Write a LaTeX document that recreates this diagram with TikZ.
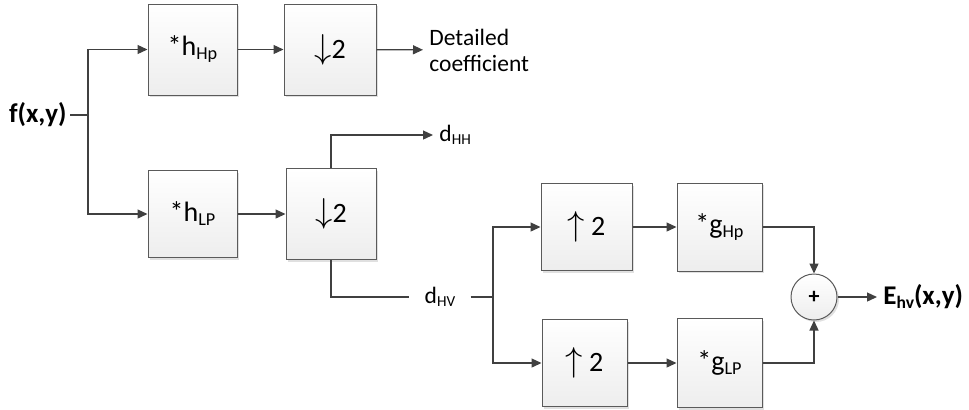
\documentclass[tikz,border=0pt]{standalone}
\usepackage{fontspec}
\setmainfont{Carlito}
\usetikzlibrary{arrows.meta,shadows}

\definecolor{wiregray}{HTML}{404040}
\definecolor{edgegray}{HTML}{5A5A5A}
\newcommand\lowsub[1]{\raisebox{-0.3ex}{\scalebox{0.65}{#1}}}
\newcommand\bigarrow[1]{{\fontsize{16}{16}\selectfont$#1$}}

\begin{document}
\begin{tikzpicture}[x=0.5pt, y=-0.5pt,
    filterbox/.style={draw=edgegray, line width=0.5pt, inner sep=0pt,
        top color=white, bottom color=gray!14,
        drop shadow={shadow xshift=1pt, shadow yshift=-1pt, opacity=0.12, fill=black},
        font=\fontsize{14}{16}\selectfont},
    sumnode/.style={filterbox, circle, minimum size=23pt,
        font=\fontsize{11}{13}\selectfont\bfseries},
    plaintext/.style={font=\fontsize{11.75}{13}\selectfont, inner xsep=3pt},
    boldtext/.style={font=\fontsize{13.5}{15}\selectfont\bfseries},
    wire/.style={draw=wiregray, line width=0.65pt},
    flow/.style={wire, -{Triangle[length=5pt, width=4.5pt]}}]
    \useasboundingbox (0,0) rectangle (969,409);

    % analysis side
    \node[boldtext, anchor=east, inner xsep=1.5pt] (fxy) at (70,115) {f(x,y)};
    \coordinate (split) at (88,115);
    \node[filterbox, minimum width=44.5pt, minimum height=45.5pt] (hHp) at (192.5,49.5) {*h\lowsub{Hp}};
    \node[filterbox, minimum width=46pt, minimum height=45.5pt] (dsA) at (330,49.5) {\bigarrow\downarrow2};
    \node[filterbox, minimum width=44.5pt, minimum height=43.5pt] (hLP) at (192.5,214) {*h\lowsub{LP}};
    \node[filterbox, minimum width=45pt, minimum height=45.5pt] (dsB) at (331,214) {\bigarrow\downarrow2};
    \node[plaintext, anchor=west, align=left] (det) at (423,50) {Detailed\\coefficient};
    \node[plaintext, anchor=west] (dHH) at (433,135) {d\lowsub{HH}};
    \node[plaintext, inner xsep=7.5pt] (dHV) at (440,297) {d\lowsub{HV}};

    \draw[wire] (fxy) -- (split);
    \draw[flow] (split) |- (hHp);
    \draw[flow] (split) |- (hLP);
    \draw[flow] (hHp) -- (dsA);
    \draw[flow] (dsA) -- (det);
    \draw[flow] (hLP) -- (dsB);
    \draw[flow] (dsB.north) |- (dHH);
    \draw[wire] (dsB.south) |- (dHV);

    % synthesis side
    \coordinate (fork) at (493,297);
    \node[filterbox, minimum width=45.5pt, minimum height=43.5pt] (usA) at (586.5,227) {\bigarrow\uparrow\ 2};
    \node[filterbox, minimum width=42.5pt, minimum height=44pt] (gHp) at (719.5,227) {*g\lowsub{Hp}};
    \node[filterbox, minimum width=42.5pt, minimum height=43.5pt] (usB) at (584.5,363) {\bigarrow\uparrow\ 2};
    \node[filterbox, minimum width=42.5pt, minimum height=44.5pt] (gLP) at (719.5,363) {*g\lowsub{LP}};
    \node[sumnode] (sum) at (814,297) {+};
    \node[boldtext, anchor=west, inner xsep=3pt] (Ehv) at (877,297) {E\lowsub{hv}(x,y)};

    \draw[wire] (dHV) -- (fork);
    \draw[flow] (fork) |- (usA);
    \draw[flow] (fork) |- (usB);
    \draw[flow] (usA) -- (gHp);
    \draw[flow] (usB) -- (gLP);
    \draw[flow] (gHp) -| (sum);
    \draw[flow] (gLP) -| (sum);
    \draw[flow] (sum) -- (Ehv);
\end{tikzpicture}
\end{document}
